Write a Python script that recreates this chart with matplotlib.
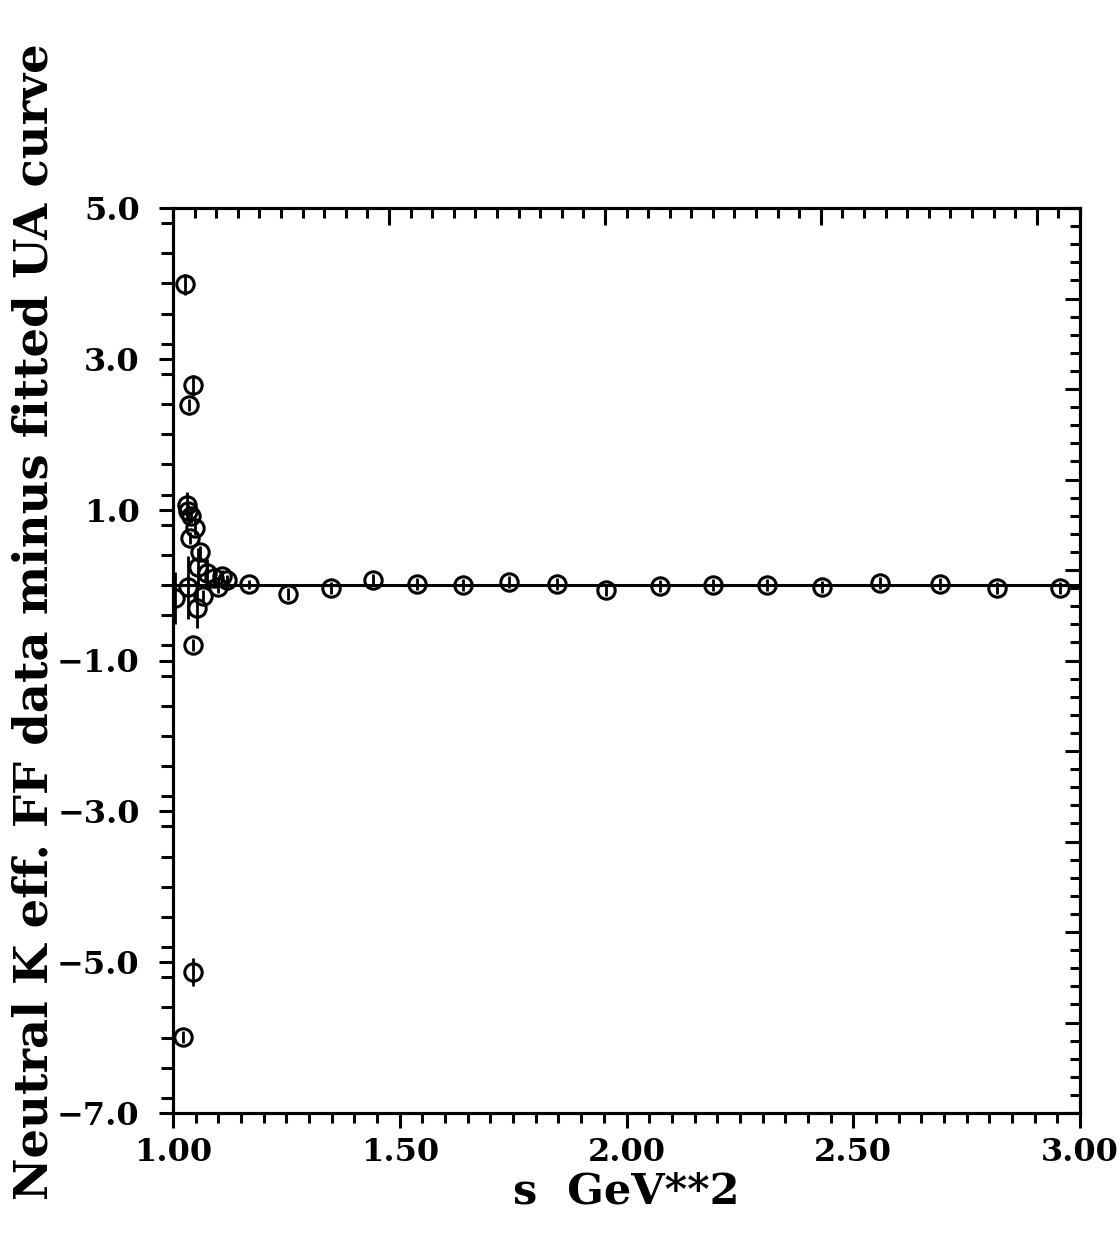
import matplotlib
matplotlib.use("Agg")
import matplotlib.pyplot as plt
from matplotlib.ticker import MultipleLocator, FixedLocator

# ---- data ----
s_vals = [1.004, 1.023, 1.026, 1.030, 1.033, 1.036, 1.037, 1.033, 1.040, 1.043,
          1.044, 1.045, 1.048, 1.053, 1.055, 1.060, 1.067, 1.075, 1.090, 1.100,
          1.108, 1.120, 1.168, 1.254, 1.348, 1.441, 1.538, 1.639, 1.741, 1.847,
          1.955, 2.074, 2.190, 2.310, 2.431, 2.559, 2.691, 2.817, 2.956]
resid = [-0.17, -5.99, 3.99, 1.06, 0.98, 2.39, 0.62, -0.03, 0.92, -5.13,
         -0.80, 2.65, 0.76, -0.30, 0.24, 0.44, -0.14, 0.16, 0.10, -0.02,
         0.12, 0.07, 0.01, -0.12, -0.04, 0.07, 0.01, 0.00, 0.04, 0.01,
         -0.06, -0.01, 0.00, 0.00, -0.03, 0.03, 0.01, -0.04, -0.04]
errs = [0.35, 0.08, 0.14, 0.18, 0.10, 0.08, 0.08, 0.42, 0.10, 0.18,
        0.08, 0.14, 0.10, 0.27, 0.25, 0.08, 0.08, 0.18, 0.10, 0.08,
        0.08, 0.06, 0.06, 0.08, 0.08, 0.08, 0.08, 0.08, 0.08, 0.08,
        0.08, 0.08, 0.08, 0.08, 0.08, 0.08, 0.08, 0.08, 0.08]

x_ticks = [1.00, 1.50, 2.00, 2.50, 3.00]
x_ticklabels = ["1.00", "1.50", "2.00", "2.50", "3.00"]
y_ticks = [5.0, 3.0, 1.0, -1.0, -3.0, -5.0, -7.0]
y_ticklabels = ["5.0", "3.0", "1.0", "\u22121.0", "\u22123.0", "\u22125.0", "\u22127.0"]

xlabel = "s  GeV**2"
ylabel = "Neutral K eff. FF data minus fitted UA curve"

# ---- figure ----
W, H = 1119, 1241
fig = plt.figure(figsize=(W / 100, H / 100), dpi=100)
L, R, T, B = 173, 1080, 208, 1113
ax = fig.add_axes([L / W, 1 - B / H, (R - L) / W, (B - T) / H])

font = dict(family="DejaVu Serif", weight="bold")
lw_sp = 2.2

ax.set_xlim(1.0, 3.0)
ax.set_ylim(-7.0, 5.0)
for sp in ax.spines.values():
    sp.set_linewidth(lw_sp)

ax.axhline(0.0, color="black", lw=2.2, zorder=2)
ax.errorbar(s_vals, resid, yerr=errs, fmt="o", mfc="none", mec="black",
            ms=12.5, mew=2.2, ecolor="black", elinewidth=2.0, capsize=0,
            zorder=3)

ax.xaxis.set_major_locator(FixedLocator(x_ticks))
ax.xaxis.set_minor_locator(MultipleLocator(0.05))
ax.set_xticklabels(x_ticklabels, fontsize=23, **font)
ax.yaxis.set_major_locator(FixedLocator(y_ticks))
ax.yaxis.set_minor_locator(MultipleLocator(0.4))
ax.set_yticklabels(y_ticklabels, fontsize=23, **font)

ax.tick_params(axis="x", which="major", direction="out", length=11, width=2.2,
               pad=6, top=False, bottom=True)
ax.tick_params(axis="x", which="minor", direction="out", length=7.5, width=2.2,
               top=False, bottom=True)
ax.tick_params(axis="y", which="major", direction="out", length=10, width=2.2,
               pad=14, right=False, left=True)
ax.tick_params(axis="y", which="minor", direction="out", length=8.5, width=2.2,
               right=False, left=True)

# independent top / right tick scales as in the reference
axt = ax.twiny()
axt.set_xlim(0, 42)
axt.xaxis.set_major_locator(MultipleLocator(10))
axt.xaxis.set_minor_locator(MultipleLocator(1))
axt.tick_params(axis="x", which="major", direction="in", length=12, width=2.2,
                labeltop=False)
axt.tick_params(axis="x", which="minor", direction="in", length=7.5, width=2.2)
axr = ax.twinx()
axr.set_ylim(0, 50)
axr.yaxis.set_major_locator(MultipleLocator(5))
axr.yaxis.set_minor_locator(MultipleLocator(1))
axr.tick_params(axis="y", which="major", direction="in", length=11, width=2.2,
                labelright=False)
axr.tick_params(axis="y", which="minor", direction="in", length=7.5, width=2.2)
for a in (axt, axr):
    for sp in a.spines.values():
        sp.set_linewidth(lw_sp)

ax.set_xlabel(xlabel, fontsize=31, labelpad=2, **font)
fig.text(35 / W, 1 - 622 / H, ylabel, rotation=90, ha="center", va="center",
         fontsize=33.5, **font)

fig.savefig("out.png", dpi=100, facecolor="white")
